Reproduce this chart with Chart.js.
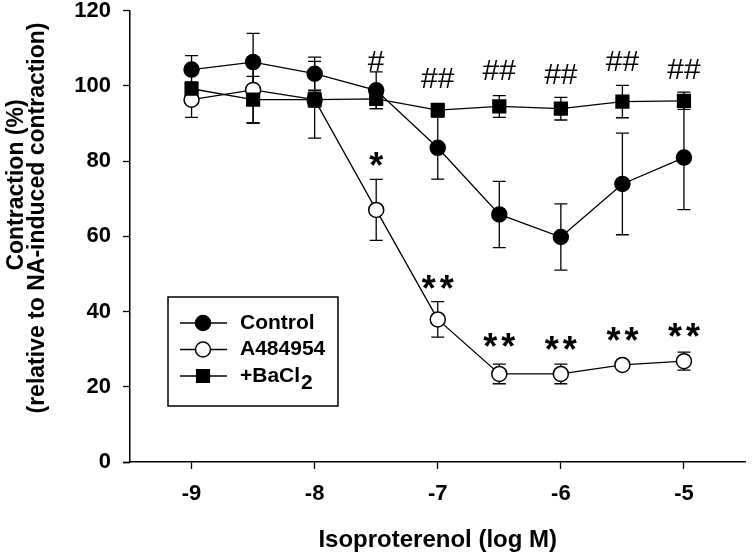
<!DOCTYPE html>
<html>
<head>
<meta charset="utf-8">
<script src="https://cdn.jsdelivr.net/npm/chart.js@4.4.1/dist/chart.umd.min.js"></script>
<style>
  html, body { margin: 0; padding: 0; background: #fff; }
</style>
</head>
<body>
<canvas id="lineChart" width="756" height="554"></canvas>
<script>
// log concentration of isoproterenol
var logConc = [-9, -8.5, -8, -7.5, -7, -6.5, -6, -5.5, -5];
var xTicks = [-9, -8, -7, -6, -5];
var yTicks = [0, 20, 40, 60, 80, 100, 120];

var controlMean = [104.3, 106.3, 103.2, 98.8, 83.5, 65.8, 59.8, 73.9, 80.9];
var controlErr  = [3.7, 7.6, 4.4, 4.9, 8.3, 8.8, 8.8, 13.5, 13.8];
var a484954Mean = [96.3, 98.9, 96.3, 67.0, 37.9, 23.4, 23.4, 25.8, 26.8];
var a484954Err  = [4.7, 8.8, 10.2, 8.1, 4.7, 2.6, 2.6, 1.0, 2.4];
var bacl2Mean   = [99.2, 96.3, 96.3, 96.5, 93.5, 94.5, 93.9, 95.8, 96.0];
var bacl2Err    = [1.5, 6.2, 2.0, 2.6, 1.8, 2.9, 3.0, 4.3, 2.3];

// significance marks
var hashX = [-7.5, -7, -6.5, -6, -5.5, -5];
var hashText = ['#', '##', '##', '##', '##', '##'];
var hashY = [106.7, 102.1, 104.1, 103.1, 106.7, 104.5];
var starX = [-7.5, -7, -6.5, -6, -5.5, -5];
var starCount = [1, 2, 2, 2, 2, 2];
var starY = [80.4, 47.9, 32.4, 31.7, 33.9, 35.2];

var yTitle = ['Contraction (%)', '(relative to NA-induced contraction)'];

var FONT = '"Liberation Sans", Arial, sans-serif';

function points(ys) {
  return logConc.map(function (x, i) { return { x: x, y: ys[i] }; });
}

var errorBars = {
  id: 'errorBars',
  beforeDatasetsDraw: function (chart) {
    var ctx = chart.ctx, xs = chart.scales.x, ys = chart.scales.y;
    ctx.save();
    ctx.strokeStyle = '#000';
    ctx.lineWidth = 1.3;
    chart.data.datasets.forEach(function (ds) {
      ds.data.forEach(function (p, i) {
        var e = ds.errors[i];
        var px = xs.getPixelForValue(p.x);
        var top = ys.getPixelForValue(p.y + e);
        var bot = ys.getPixelForValue(p.y - e);
        ctx.beginPath();
        ctx.moveTo(px, top); ctx.lineTo(px, bot);
        ctx.moveTo(px - 6.5, top); ctx.lineTo(px + 6.5, top);
        ctx.moveTo(px - 6.5, bot); ctx.lineTo(px + 6.5, bot);
        ctx.stroke();
      });
    });
    ctx.restore();
  }
};

function drawCentered(ctx, text, x, y) {
  var m = ctx.measureText(text);
  var a = m.actualBoundingBoxAscent, d = m.actualBoundingBoxDescent;
  ctx.fillText(text, x, y + (a - d) / 2);
}

var marks = {
  id: 'marks',
  afterDatasetsDraw: function (chart) {
    var ctx = chart.ctx, xs = chart.scales.x, ys = chart.scales.y;
    ctx.save();
    ctx.fillStyle = '#000';
    ctx.textAlign = 'center';
    ctx.textBaseline = 'alphabetic';
    ctx.font = 'normal 30px ' + FONT;
    hashX.forEach(function (x, i) {
      drawCentered(ctx, hashText[i], xs.getPixelForValue(x), ys.getPixelForValue(hashY[i]));
    });
    ctx.font = 'bold 36px ' + FONT;
    starX.forEach(function (x, i) {
      var px = xs.getPixelForValue(x), py = ys.getPixelForValue(starY[i]);
      if (starCount[i] === 1) {
        drawCentered(ctx, '*', px, py);
      } else {
        drawCentered(ctx, '*', px - 9, py);
        drawCentered(ctx, '*', px + 9, py);
      }
    });
    ctx.restore();
  }
};

var sideTitle = {
  id: 'sideTitle',
  afterDraw: function (chart) {
    var ctx = chart.ctx;
    var spots = [[17, 185], [38, 218]];
    ctx.save();
    ctx.fillStyle = '#000';
    ctx.font = 'bold 23px ' + FONT;
    ctx.textAlign = 'center';
    ctx.textBaseline = 'middle';
    yTitle.forEach(function (t, i) {
      ctx.save();
      ctx.translate(spots[i][0], spots[i][1]);
      ctx.rotate(-Math.PI / 2);
      ctx.fillText(t, 0, 0);
      ctx.restore();
    });
    // x axis line runs a little past the y axis, as in the original
    var xs = chart.scales.x;
    ctx.strokeStyle = '#000';
    ctx.lineWidth = 1.5;
    ctx.beginPath();
    ctx.moveTo(xs.left - 7, xs.top + 0.5);
    ctx.lineTo(xs.left, xs.top + 0.5);
    ctx.stroke();
    ctx.restore();
  }
};

var boxLegend = {
  id: 'boxLegend',
  afterDraw: function (chart) {
    var ctx = chart.ctx;
    var bx = 168, by = 297, bw = 170, bh = 109;
    ctx.save();
    ctx.strokeStyle = '#000';
    ctx.lineWidth = 1.5;
    ctx.fillStyle = '#fff';
    ctx.fillRect(bx, by, bw, bh);
    ctx.strokeRect(bx, by, bw, bh);
    var rows = [323, 349.5, 376];
    chart.data.datasets.forEach(function (ds, i) {
      var y = rows[i];
      ctx.lineWidth = 1.3;
      ctx.strokeStyle = '#000';
      ctx.beginPath(); ctx.moveTo(180, y); ctx.lineTo(227, y); ctx.stroke();
      ctx.lineWidth = 1.5;
      ctx.fillStyle = ds.pointBackgroundColor;
      ctx.beginPath();
      if (ds.pointStyle === 'rect') {
        var s = ds.pointRadius * Math.SQRT1_2;
        ctx.rect(203 - s, y - s, 2 * s, 2 * s);
      } else {
        ctx.arc(203, y, ds.pointRadius, 0, Math.PI * 2);
      }
      ctx.fill(); ctx.stroke();
      ctx.fillStyle = '#000';
      ctx.textAlign = 'left';
      ctx.textBaseline = 'middle';
      ctx.font = 'bold 21px ' + FONT;
      if (ds.label === '+BaCl2') {
        ctx.fillText('+BaCl', 240, y);
        var w = ctx.measureText('+BaCl').width;
        ctx.fillText('2', 240 + w + 1, y + 7);
      } else {
        ctx.fillText(ds.label, 240, y);
      }
    });
    ctx.restore();
  }
};

var tickFont = { family: FONT, size: 22, weight: 'bold' };

var config = {
  type: 'line',
  data: {
    datasets: [{
      label: 'Control',
      data: points(controlMean),
      errors: controlErr,
      borderColor: '#000',
      borderWidth: 1.3,
      pointStyle: 'circle',
      pointRadius: 7.5,
      pointBorderWidth: 1.5,
      pointBackgroundColor: '#000',
      pointBorderColor: '#000',
      order: 1
    }, {
      label: 'A484954',
      data: points(a484954Mean),
      errors: a484954Err,
      borderColor: '#000',
      borderWidth: 1.3,
      pointStyle: 'circle',
      pointRadius: 7.5,
      pointBorderWidth: 1.5,
      pointBackgroundColor: '#fff',
      pointBorderColor: '#000',
      order: 2
    }, {
      label: '+BaCl2',
      data: points(bacl2Mean),
      errors: bacl2Err,
      borderColor: '#000',
      borderWidth: 1.3,
      pointStyle: 'rect',
      pointRadius: 9,
      pointBorderWidth: 1.5,
      pointBackgroundColor: '#000',
      pointBorderColor: '#000',
      order: 0
    }]
  },
  options: {
    responsive: false,
    animation: false,
    devicePixelRatio: 1,
    layout: { padding: { top: 10, right: 3, left: 0, bottom: 0 } },
    plugins: { legend: { display: false }, tooltip: { enabled: false } },
    scales: {
      x: {
        type: 'linear',
        min: -9.5,
        max: -4.5,
        afterBuildTicks: function (scale) {
          scale.ticks = xTicks.map(function (v) { return { value: v }; });
        },
        afterFit: function (scale) {
          scale.height = 92;
          scale.paddingLeft = 0; scale.paddingRight = 0;
        },
        grid: { drawOnChartArea: false, drawTicks: true, tickLength: 7, tickColor: '#000', tickWidth: 1.3 },
        border: { color: '#000', width: 1.5 },
        ticks: { color: '#000', font: tickFont, padding: 12, maxRotation: 0,
          callback: function (v) { return String(v); } },
        title: { display: true, text: 'Isoproterenol (log M)', color: '#000',
          font: { family: FONT, size: 24, weight: 'bold', lineHeight: 1 },
          padding: { top: 0, bottom: 2 } }
      },
      y: {
        min: 0,
        max: 120,
        afterBuildTicks: function (scale) {
          scale.ticks = yTicks.map(function (v) { return { value: v }; });
        },
        afterFit: function (scale) {
          scale.width = 130;
          scale.paddingTop = 0; scale.paddingBottom = 0;
        },
        grid: { drawOnChartArea: false, drawTicks: true, tickLength: 7, tickColor: '#000', tickWidth: 1.3 },
        border: { color: '#000', width: 1.5 },
        ticks: { color: '#000', font: tickFont, padding: 12 },
        title: { display: false }
      }
    }
  },
  plugins: [errorBars, marks, sideTitle, boxLegend]
};

var ctx = document.getElementById('lineChart').getContext('2d');
new Chart(ctx, config);
</script>
</body>
</html>
